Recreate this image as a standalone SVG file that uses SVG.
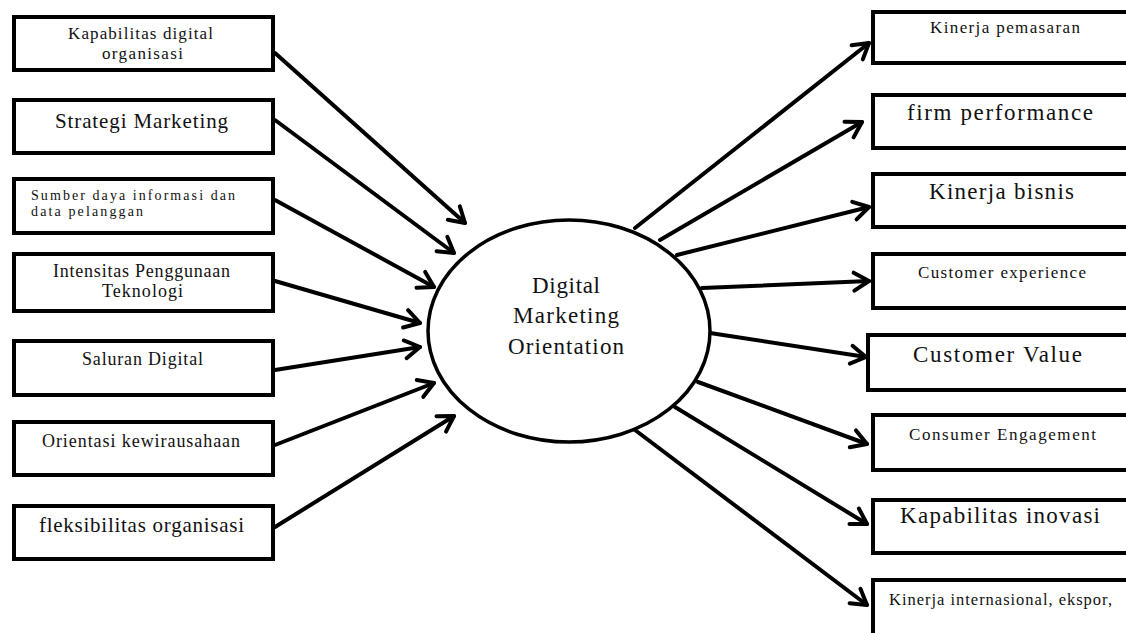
<svg xmlns="http://www.w3.org/2000/svg" width="1126" height="633" viewBox="0 0 1126 633">
<style>
.box{fill:#fff;stroke:#000;stroke-width:4}
.t{font-family:"Liberation Serif","Times New Roman",serif;fill:#111}
.c line{stroke:#000;stroke-width:4;stroke-linecap:round}
</style>
<defs>
<marker id="ah" markerUnits="userSpaceOnUse" viewBox="-20 -12 24 24" markerWidth="24" markerHeight="24" refX="0" refY="0" orient="auto">
<path d="M-15,-9 L0,0 L-15,9" fill="none" stroke="#000" stroke-width="4" stroke-linecap="round" stroke-linejoin="round"/>
</marker>
</defs>
<rect width="1126" height="633" fill="#fff"/>
<g class="c" id="connectors">
<line x1="275" y1="53" x2="465" y2="223" marker-end="url(#ah)"/>
<line x1="275" y1="120" x2="454" y2="253" marker-end="url(#ah)"/>
<line x1="275" y1="200" x2="434" y2="287" marker-end="url(#ah)"/>
<line x1="275" y1="281" x2="420" y2="323" marker-end="url(#ah)"/>
<line x1="275" y1="370" x2="420" y2="347" marker-end="url(#ah)"/>
<line x1="275" y1="445" x2="434" y2="383" marker-end="url(#ah)"/>
<line x1="275" y1="527" x2="454" y2="416" marker-end="url(#ah)"/>
<line x1="635" y1="228" x2="869" y2="43" marker-end="url(#ah)"/>
<line x1="660" y1="240" x2="862" y2="122" marker-end="url(#ah)"/>
<line x1="677" y1="255" x2="869" y2="207" marker-end="url(#ah)"/>
<line x1="702" y1="288" x2="869" y2="281" marker-end="url(#ah)"/>
<line x1="710" y1="333" x2="866" y2="357" marker-end="url(#ah)"/>
<line x1="698" y1="382" x2="867" y2="444" marker-end="url(#ah)"/>
<line x1="675" y1="407" x2="867" y2="524" marker-end="url(#ah)"/>
<line x1="635" y1="430" x2="867" y2="605" marker-end="url(#ah)"/>
</g>
<g id="center">
<ellipse cx="569" cy="331" rx="141" ry="111" fill="#fff" stroke="#000" stroke-width="3.5"/>
<text class="t" font-size="23" x="566" y="293" text-anchor="middle" textLength="68" lengthAdjust="spacing">Digital</text>
<text class="t" font-size="23" x="566" y="323" text-anchor="middle" textLength="106" lengthAdjust="spacing">Marketing</text>
<text class="t" font-size="23" x="566" y="354" text-anchor="middle" textLength="116" lengthAdjust="spacing">Orientation</text>
</g>
<g id="l1"><rect class="box" x="14" y="17" width="259" height="53"/>
<text class="t" font-size="17" x="68" y="39" textLength="145" lengthAdjust="spacing">Kapabilitas  digital</text>
<text class="t" font-size="17" x="102" y="59" textLength="81" lengthAdjust="spacing">organisasi</text></g>
<g id="l2"><rect class="box" x="14" y="100" width="259" height="53"/>
<text class="t" font-size="21" x="55" y="128" textLength="173" lengthAdjust="spacing">Strategi Marketing</text></g>
<g id="l3"><rect class="box" x="14" y="179" width="259" height="54"/>
<text class="t" font-size="14" x="31" y="200" textLength="204" lengthAdjust="spacing">Sumber daya informasi dan</text>
<text class="t" font-size="14" x="31" y="216" textLength="112" lengthAdjust="spacing">data pelanggan</text></g>
<g id="l4"><rect class="box" x="14" y="254" width="259" height="57"/>
<text class="t" font-size="18" x="53" y="277" textLength="177" lengthAdjust="spacing">Intensitas Penggunaan</text>
<text class="t" font-size="18" x="102" y="297" textLength="81" lengthAdjust="spacing">Teknologi</text></g>
<g id="l5"><rect class="box" x="14" y="341" width="259" height="54"/>
<text class="t" font-size="18" x="82" y="365" textLength="121" lengthAdjust="spacing">Saluran Digital</text></g>
<g id="l6"><rect class="box" x="14" y="422" width="259" height="53"/>
<text class="t" font-size="18" x="42" y="447" textLength="198" lengthAdjust="spacing">Orientasi kewirausahaan</text></g>
<g id="l7"><rect class="box" x="14" y="506" width="259" height="53"/>
<text class="t" font-size="21" x="39" y="532" textLength="205" lengthAdjust="spacing">fleksibilitas organisasi</text></g>
<g id="r1"><rect class="box" x="873" y="12" width="300" height="51"/>
<text class="t" font-size="17" x="930" y="33" textLength="150" lengthAdjust="spacing">Kinerja  pemasaran</text></g>
<g id="r2"><rect class="box" x="873" y="95" width="300" height="53"/>
<text class="t" font-size="23" x="907" y="120" textLength="186" lengthAdjust="spacing">firm performance</text></g>
<g id="r3"><rect class="box" x="873" y="174" width="300" height="53"/>
<text class="t" font-size="23" x="929" y="199" textLength="145" lengthAdjust="spacing">Kinerja bisnis</text></g>
<g id="r4"><rect class="box" x="873" y="254" width="300" height="54"/>
<text class="t" font-size="17" x="918" y="278" textLength="168" lengthAdjust="spacing">Customer experience</text></g>
<g id="r5"><rect class="box" x="868" y="335" width="300" height="55"/>
<text class="t" font-size="23" x="913" y="362" textLength="169" lengthAdjust="spacing">Customer Value</text></g>
<g id="r6"><rect class="box" x="873" y="415" width="300" height="55"/>
<text class="t" font-size="17" x="909" y="440" textLength="187" lengthAdjust="spacing">Consumer Engagement</text></g>
<g id="r7"><rect class="box" x="873" y="500" width="300" height="53"/>
<text class="t" font-size="23" x="900" y="523" textLength="200" lengthAdjust="spacing">Kapabilitas inovasi</text></g>
<g id="r8"><rect class="box" x="873" y="580" width="300" height="70"/>
<text class="t" font-size="16.5" x="889" y="605" textLength="223" lengthAdjust="spacing">Kinerja internasional, ekspor,</text></g>
</svg>
